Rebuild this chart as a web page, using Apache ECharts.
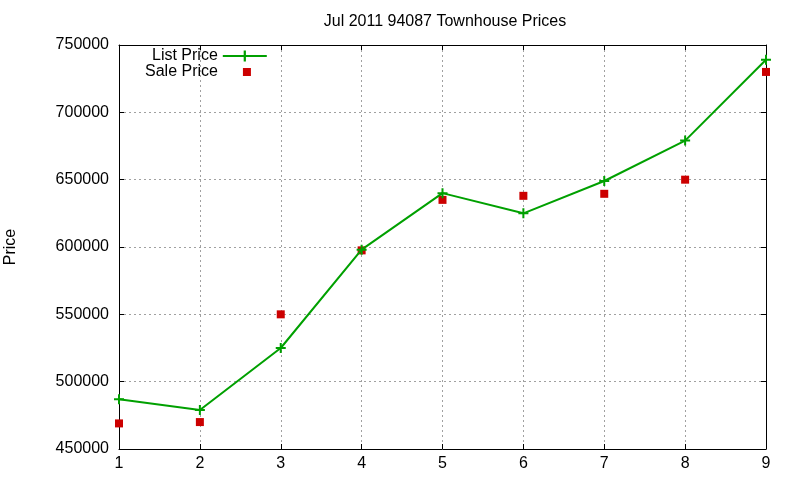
<!DOCTYPE html>
<html>
<head>
<meta charset="utf-8">
<script src="https://cdn.jsdelivr.net/npm/echarts@6/dist/echarts.min.js"></script>
<style>
  html, body { margin: 0; padding: 0; background: #fff; }
  #chart { width: 800px; height: 480px; }
</style>
</head>
<body>
<div id="chart"></div>
<script>
// month index along the x axis
const months = [1, 2, 3, 4, 5, 6, 7, 8, 9]
const listPrice = [487000, 479000, 525000, 598000, 640000, 625000, 649000, 679000, 739000]
const salePrice = [469000, 470000, 550000, 597500, 635000, 638000, 639500, 650000, 730000]

const FONT = 'Liberation Sans'
const plus = 'path://M4,0H6V4H10V6H6V10H4V6H0V4H4Z'

const chart = echarts.init(document.getElementById('chart'))

const gridLine = {show: true, lineStyle: {color: '#a0a0a0', type: [2, 3], width: 1}}
const axisLine = {show: true, onZero: false, lineStyle: {color: '#000', width: 1}}
const tick = {show: true, inside: true, length: 5, lineStyle: {color: '#000'}}

const option = {
    animation: false,
    backgroundColor: '#fff',
    textStyle: {fontFamily: FONT},
    title: {
        text: 'Jul 2011 94087 Townhouse Prices',
        left: 440,
        top: 9,
        textAlign: 'center',
        textStyle: {fontFamily: FONT, fontSize: 16, fontWeight: 'normal', color: '#000'}
    },
    legend: [
        {
            data: ['List Price'],
            left: 152, top: 48, padding: 0,
            align: 'right',
            itemWidth: 44, itemHeight: 14,
            textStyle: {fontFamily: FONT, fontSize: 16, color: '#000'}
        },
        {
            data: [{name: 'Sale Price', icon: 'rect'}],
            left: 145, top: 64, padding: 0,
            align: 'right',
            itemWidth: 8, itemHeight: 8,
            textStyle: {fontFamily: FONT, fontSize: 16, color: '#000', padding: [0, 20, 0, 0]}
        }
    ],
    grid: {left: 119, right: 34, top: 45, bottom: 31, outerBoundsMode: 'none'},
    xAxis: [
        {
            type: 'value', min: 1, max: 9, interval: 1,
            axisLine: axisLine, axisTick: tick, splitLine: gridLine,
            axisLabel: {color: '#000', fontFamily: FONT, fontSize: 16, margin: 7}
        },
        {
            type: 'value', position: 'top', min: 1, max: 9, interval: 1,
            axisLine: axisLine, axisTick: tick, splitLine: {show: false},
            axisLabel: {show: false}
        }
    ],
    yAxis: [
        {
            type: 'value', min: 450000, max: 750000, interval: 50000,
            name: 'Price', nameLocation: 'middle', nameGap: 100,
            nameTextStyle: {color: '#000', fontFamily: FONT, fontSize: 16},
            axisLine: axisLine, axisTick: tick, splitLine: gridLine,
            axisLabel: {color: '#000', fontFamily: FONT, fontSize: 16, margin: 10,
                formatter: v => String(v)}
        },
        {
            type: 'value', position: 'right', min: 450000, max: 750000, interval: 50000,
            axisLine: axisLine, axisTick: tick, splitLine: {show: false},
            axisLabel: {show: false}
        }
    ],
    series: [
        {
            name: 'List Price',
            type: 'line',
            data: months.map((m, i) => [m, listPrice[i]]),
            symbol: plus,
            symbolSize: 10,
            showAllSymbol: true,
            lineStyle: {color: '#00a000', width: 2},
            itemStyle: {color: '#00a000'},
            z: 3
        },
        {
            name: 'Sale Price',
            type: 'scatter',
            data: months.map((m, i) => [m, salePrice[i]]),
            symbol: 'rect',
            symbolSize: 8,
            itemStyle: {color: '#cc0000', opacity: 1},
            z: 2
        }
    ]
}
chart.setOption(option)
</script>
</body>
</html>
